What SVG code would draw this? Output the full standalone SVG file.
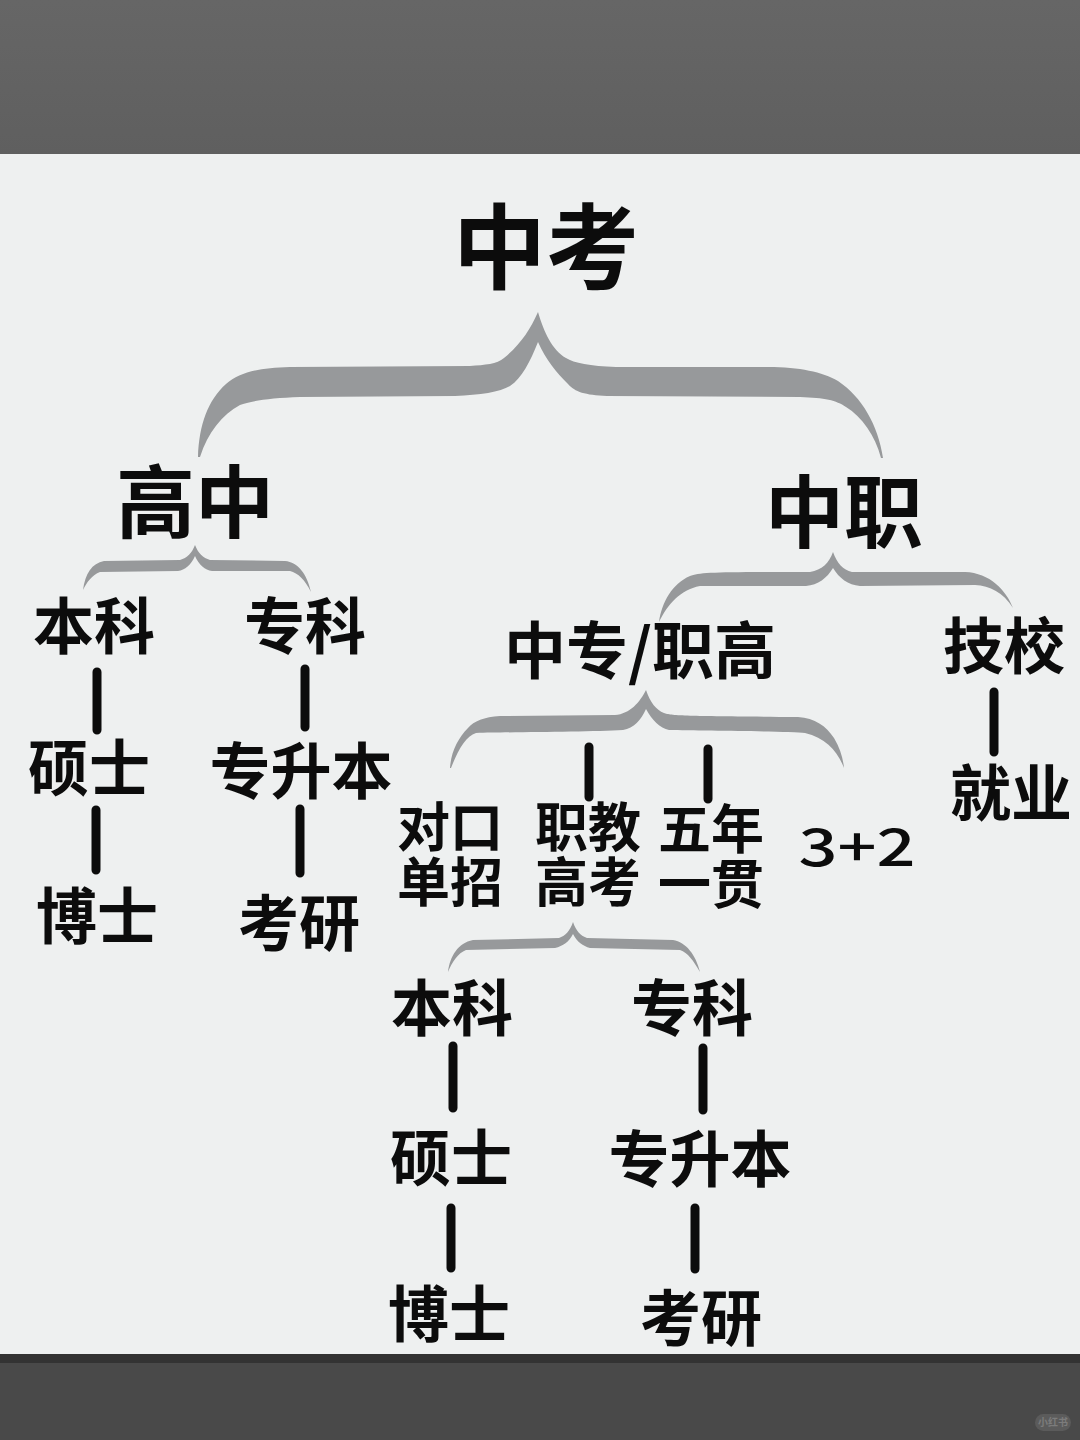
<svg xmlns="http://www.w3.org/2000/svg" width="1080" height="1440" viewBox="0 0 1080 1440">
<style>
text{font-family:"Noto Sans CJK SC","Noto Sans",sans-serif;font-weight:700;fill:#0c0c0c;text-anchor:middle}
.a{font-size:61px}.b{font-size:53px}.c{font-size:79px}.d{font-size:93px}
.br{fill:#97999b}
.ln{stroke:#0c0c0c;stroke-width:9;stroke-linecap:round;fill:none}
</style>
<defs><linearGradient id="top" x1="0" y1="0" x2="0" y2="1"><stop offset="0" stop-color="#666"/><stop offset="1" stop-color="#5f5f5f"/></linearGradient></defs>
<rect id="paper" x="0" y="150" width="1080" height="1210" fill="#eef0f0"/>
<rect id="band-top" x="0" y="0" width="1080" height="154" fill="url(#top)"/>
<rect id="band-bottom" x="0" y="1355" width="1080" height="85" fill="#494949"/>
<rect id="band-edge" x="0" y="1354" width="1080" height="9" fill="#333"/>
<g id="connectors">
<path class="br" d="M538 312C544 332 552 350 566 358C574 363 590 366 616 367L768 367C800 367 822 372 838 381C862 397 878 425 883 458L881 458C875 435 862 417 846 407C836 400 825 398 800 397L607 396C585 395 575 392 568 384C556 372 546 360 538 342C530 362 522 378 510 386C500 392 480 395 455 396L300 397C270 398 250 401 240 405C222 415 208 432 200 457L198 457C199 425 208 400 226 384C240 372 258 368 290 367L470 366C485 365 497 364 504 358C520 345 530 330 538 312Z"/>
<path class="br" d="M646 690C650 702 656 710 664 713C672 716 690 716 798 717C815 718 826 726 834 738C840 748 843 758 844 768C838 752 826 738 805 733C790 731 700 731 669 730C660 728 652 720 646 709C641 720 634 728 623 730C590 732 510 732 476 733C466 736 458 750 451 768L450 768C451 752 458 738 468 728C474 721 484 717 500 716L615 715C630 714 640 702 646 690Z"/>
<path class="br" d="M573 922C576 931 581 936 587 938L673 940C686 942 696 955 700 972C693 960 688 953 680 950L590 948C583 946 577 942 573 934C569 942 563 946 555 948L466 950C458 953 452 962 448 972C450 956 458 943 473 940L559 938C565 936 570 931 573 922Z"/>
<path class="br" d="M195 545C198 553 203 558 210 560L285 561C298 562 307 574 311 592C305 580 298 573 290 571L212 571C205 570 199 565 195 556C191 565 185 570 178 571L100 572C92 575 87 582 83 590C85 574 92 563 104 561L180 560C187 558 192 553 195 545Z"/>
<path class="br" d="M833 552C837 563 843 570 852 572L965 572C990 573 1006 590 1013 608C1003 592 990 586 975 585L860 586C848 585 839 578 833 568C827 578 818 585 806 586L700 586C680 590 668 604 659 622C662 602 672 584 690 576C700 572 720 572 810 572C822 570 829 563 833 552Z"/>
<path class="ln" d="M97 672V730M96 810V870M305 669V727M300 809V873M994 692V752M589 747V797M708 749V799M453 1046V1108M703 1048V1110M451 1208V1268M695 1208V1269"/>
</g>
<g id="n-zhongkao"><text class="d" x="546" y="282">中考</text></g>
<g id="n-gaozhong"><text class="c" x="195" y="532">高中</text></g>
<g id="n-zhongzhi"><text class="c" x="844" y="542">中职</text></g>
<g id="n-benke1"><text class="a" x="94" y="649">本科</text></g>
<g id="n-zhuanke1"><text class="a" x="305" y="649">专科</text></g>
<g id="n-shuoshi1"><text class="a" x="89" y="791">硕士</text></g>
<g id="n-zsb1"><text class="a" x="301" y="794">专升本</text></g>
<g id="n-boshi1"><text class="a" x="97" y="939">博士</text></g>
<g id="n-kaoyan1"><text class="a" x="299" y="946">考研</text></g>
<g id="n-zzzg"><text x="640" y="674" font-size="62">中专/职高</text></g>
<g id="n-jixiao"><text class="a" x="1004" y="669">技校</text></g>
<g id="n-jiuye"><text class="a" x="1011" y="816">就业</text></g>
<g id="n-duikou"><text class="b" x="450" y="847">对口<tspan x="450" dy="55">单招</tspan></text></g>
<g id="n-zhijiao"><text class="b" x="588" y="847">职教<tspan x="588" dy="55">高考</tspan></text></g>
<g id="n-wunian"><text class="b" x="711" y="849">五年<tspan x="711" dy="55">一贯</tspan></text></g>
<g id="n-32"><text x="857" y="866" font-size="52" style="font-weight:500" textLength="117" lengthAdjust="spacingAndGlyphs">3+2</text></g>
<g id="n-benke2"><text class="a" x="452" y="1031">本科</text></g>
<g id="n-zhuanke2"><text class="a" x="692" y="1031">专科</text></g>
<g id="n-shuoshi2"><text class="a" x="451" y="1181">硕士</text></g>
<g id="n-zsb2"><text class="a" x="700" y="1182">专升本</text></g>
<g id="n-boshi2"><text class="a" x="449" y="1337">博士</text></g>
<g id="n-kaoyan2"><text class="a" x="701" y="1341">考研</text></g>
<g id="watermark"><rect x="1035" y="1414" width="36" height="17" rx="8.5" fill="#5b5b5b"/><text x="1053" y="1426" font-size="10" style="fill:#7c7c7c">小红书</text></g>
</svg>
